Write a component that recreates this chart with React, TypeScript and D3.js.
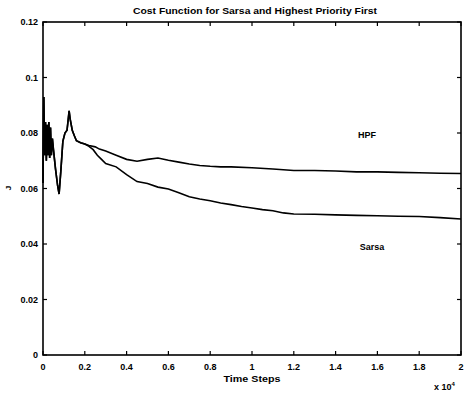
import React from "react";
import * as d3 from "d3";

const xTicks = [0, 0.2, 0.4, 0.6, 0.8, 1, 1.2, 1.4, 1.6, 1.8, 2];
const yTicks = [0, 0.02, 0.04, 0.06, 0.08, 0.1, 0.12];
const xTickLabels = ["0", "0.2", "0.4", "0.6", "0.8", "1", "1.2", "1.4", "1.6", "1.8", "2"];
const yTickLabels = ["0", "0.02", "0.04", "0.06", "0.08", "0.1", "0.12"];

const earlyT = [0, 0.004, 0.008, 0.012, 0.016, 0.02, 0.024, 0.028, 0.032, 0.036, 0.04, 0.045, 0.05, 0.06, 0.07, 0.077, 0.085, 0.095, 0.105, 0.115, 0.125, 0.13, 0.14, 0.15, 0.16, 0.18, 0.2];
const earlyV = [0.062, 0.093, 0.072, 0.084, 0.07, 0.083, 0.072, 0.084, 0.071, 0.082, 0.072, 0.078, 0.074, 0.067, 0.061, 0.058, 0.066, 0.077, 0.080, 0.081, 0.088, 0.085, 0.081, 0.079, 0.0772, 0.0765, 0.076];

const sarsaT = [0.22, 0.24, 0.26, 0.28, 0.3, 0.35, 0.4, 0.45, 0.5, 0.55, 0.6, 0.65, 0.7, 0.75, 0.8, 0.85, 0.9, 0.95, 1.0, 1.05, 1.1, 1.15, 1.2, 1.3, 1.4, 1.5, 1.6, 1.7, 1.8, 1.9, 2.0];
const sarsaV = [0.0752, 0.074, 0.072, 0.0705, 0.069, 0.0678, 0.065, 0.0625, 0.0618, 0.0605, 0.0598, 0.0585, 0.057, 0.0562, 0.0556, 0.0548, 0.0542, 0.0535, 0.053, 0.0524, 0.052, 0.0512, 0.0508, 0.0507, 0.0505, 0.0503, 0.0502, 0.05, 0.0499, 0.0495, 0.049];

const hpfT = [0.22, 0.25, 0.27, 0.3, 0.35, 0.4, 0.45, 0.5, 0.55, 0.6, 0.65, 0.7, 0.75, 0.8, 0.85, 0.9, 1.0, 1.1, 1.2, 1.3, 1.4, 1.5, 1.6, 1.7, 1.8, 1.9, 2.0];
const hpfV = [0.0755, 0.075, 0.0742, 0.0735, 0.072, 0.0705, 0.0698, 0.0705, 0.071, 0.0702, 0.0695, 0.0688, 0.0683, 0.068, 0.0678, 0.0678, 0.0675, 0.067, 0.0665, 0.0665, 0.0663, 0.066, 0.066, 0.0658, 0.0657, 0.0655, 0.0654];

const W = 464, H = 394;
const left = 43, right = 461, top = 22, bottom = 355;

export default function App() {
  const x = d3.scaleLinear().domain([0, 2]).range([left, right]);
  const y = d3.scaleLinear().domain([0, 0.12]).range([bottom, top]);
  const line = d3.line<[number, number]>().x(d => x(d[0])).y(d => y(d[1]));
  const early: [number, number][] = earlyT.map((t, i) => [t, earlyV[i]]);
  const sarsa = early.concat(sarsaT.map((t, i) => [t, sarsaV[i]] as [number, number]));
  const hpf = early.concat(hpfT.map((t, i) => [t, hpfV[i]] as [number, number]));
  const font = "'Liberation Sans', Arial, sans-serif";
  return (
    <svg width={W} height={H} style={{ position: "absolute", left: 0, top: 0, background: "#fff" }}>
      <rect x={0} y={0} width={W} height={H} fill="#fff" />
      <text x={255} y={14} textAnchor="middle" fontFamily={font} fontWeight="bold" fontSize={9} textLength={244} lengthAdjust="spacingAndGlyphs">
        Cost Function for Sarsa and Highest Priority First
      </text>
      <rect x={left} y={top} width={right - left} height={bottom - top} fill="none" stroke="#000" strokeWidth={1.6} />
      {xTicks.map((t, i) => (
        <g key={"x" + i}>
          <line x1={x(t)} x2={x(t)} y1={bottom} y2={bottom - 4} stroke="#000" strokeWidth={1.2} />
          <line x1={x(t)} x2={x(t)} y1={top} y2={top + 4} stroke="#000" strokeWidth={1.2} />
          <text x={x(t)} y={bottom + 15} textAnchor="middle" fontFamily={font} fontWeight="bold" fontSize={9}>
            {xTickLabels[i]}
          </text>
        </g>
      ))}
      {yTicks.map((t, i) => (
        <g key={"y" + i}>
          <line x1={left} x2={left + 4} y1={y(t)} y2={y(t)} stroke="#000" strokeWidth={1.2} />
          <line x1={right} x2={right - 4} y1={y(t)} y2={y(t)} stroke="#000" strokeWidth={1.2} />
          <text x={left - 5} y={y(t) + 3} textAnchor="end" fontFamily={font} fontWeight="bold" fontSize={9}>
            {yTickLabels[i]}
          </text>
        </g>
      ))}
      <path d={line(sarsa) || ""} fill="none" stroke="#000" strokeWidth={1.6} />
      <path d={line(hpf) || ""} fill="none" stroke="#000" strokeWidth={1.6} />
      <text x={367} y={138} textAnchor="middle" fontFamily={font} fontWeight="bold" fontSize={9}>HPF</text>
      <text x={372} y={250} textAnchor="middle" fontFamily={font} fontWeight="bold" fontSize={9}>Sarsa</text>
      <text x={252} y={382} textAnchor="middle" fontFamily={font} fontWeight="bold" fontSize={9} textLength={57} lengthAdjust="spacingAndGlyphs">Time Steps</text>
      <text x={434} y={390} fontFamily={font} fontWeight="bold" fontSize={9}>
        x 10<tspan dy={-4} fontSize={6}>4</tspan>
      </text>
      <text transform="translate(11,188) rotate(-90)" textAnchor="middle" fontFamily={font} fontWeight="bold" fontSize={8}>J</text>
    </svg>
  );
}
